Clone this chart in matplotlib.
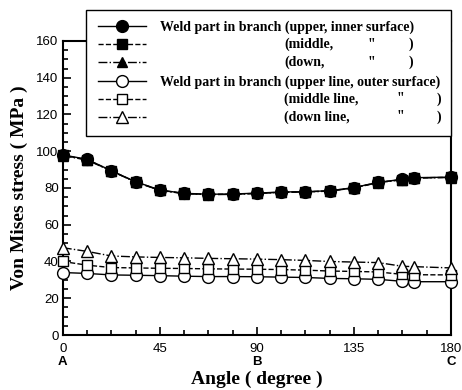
import matplotlib
matplotlib.use("Agg")
import matplotlib.pyplot as plt
from matplotlib.ticker import MultipleLocator
from matplotlib.transforms import blended_transform_factory

# angle along the weld line (degree)
angles = [0, 11.25, 22.5, 33.75, 45, 56.25, 67.5, 78.75, 90,
          101.25, 112.5, 123.75, 135, 146.25, 157.5, 163, 180]

# inner surface (upper / middle / down) - practically on top of each other
inner_upper = [98.0, 95.6, 89.4, 83.4, 78.9, 77.1, 76.6, 76.7, 77.2,
               77.8, 78.0, 78.5, 80.2, 83.1, 84.7, 85.6, 85.9]
inner_middle = [97.8, 95.4, 89.3, 83.3, 78.8, 77.0, 76.5, 76.6, 77.1,
                77.7, 77.9, 78.4, 80.1, 83.0, 84.6, 85.5, 85.8]
inner_down = [97.6, 95.2, 89.2, 83.2, 78.7, 76.9, 76.4, 76.5, 77.0,
              77.6, 77.8, 78.3, 80.0, 82.9, 84.5, 85.4, 85.7]

# outer surface lines
outer_upper = [34.0, 33.5, 32.7, 32.5, 32.3, 32.0, 31.8, 31.8, 31.7,
               31.5, 31.3, 30.8, 30.6, 30.3, 29.2, 29.0, 29.0]
outer_middle = [40.0, 38.0, 36.7, 36.5, 36.3, 36.2, 36.0, 35.9, 35.8,
                35.6, 35.3, 34.8, 34.6, 34.3, 33.0, 32.8, 32.7]
outer_down = [47.5, 45.5, 43.0, 42.5, 42.2, 42.0, 41.7, 41.5, 41.3,
              41.0, 40.6, 40.0, 39.7, 39.4, 37.4, 37.2, 36.5]

xtick_vals = [0, 45, 90, 135, 180]
point_names = {0: "A", 90: "B", 180: "C"}

serif = "Liberation Serif"
sans = "Liberation Sans"

fig = plt.figure(figsize=(4.62, 3.90), dpi=100)
ax = fig.add_axes([0.136, 0.141, 0.840, 0.754])

common = dict(color="k", lw=1.0, mec="k", clip_on=False)

# outer surface first (circles under squares under triangles)
ax.plot(angles, outer_upper, "-", marker="o", ms=8.5, mfc="white", mew=1.0,
        label="Weld part in branch (upper line, outer surface)", zorder=3, **common)
ax.plot(angles, outer_middle, "--", marker="s", ms=7.5, mfc="white", mew=1.0,
        label=" ", zorder=4, **common)
ax.plot(angles, outer_down, "-.", marker="^", ms=8.5, mfc="white", mew=1.0,
        label=" ", zorder=5, **common)

# inner surface, circles drawn on top
ax.plot(angles, inner_upper, "-", marker="o", ms=8.5, mfc="k",
        label="Weld part in branch (upper, inner surface)", zorder=8, **common)
ax.plot(angles, inner_middle, "--", marker="s", ms=6.5, mfc="k",
        label=" ", zorder=6, **common)
ax.plot(angles, inner_down, "-.", marker="^", ms=7, mfc="k",
        label=" ", zorder=7, **common)

ax.set_xlim(0, 180)
ax.set_ylim(0, 160)
ax.xaxis.set_minor_locator(MultipleLocator(11.25))
ax.yaxis.set_major_locator(MultipleLocator(20))
ax.yaxis.set_minor_locator(MultipleLocator(5))
ax.set_xticks(xtick_vals)
ax.set_xticklabels([str(v) for v in xtick_vals])
ax.tick_params(which="both", direction="in", top=False, right=False, width=1.2)
ax.tick_params(which="major", length=6)
ax.tick_params(which="minor", length=3.5)
ax.tick_params(axis="x", pad=6)
ax.tick_params(axis="y", pad=3)
for lbl in ax.get_xticklabels() + ax.get_yticklabels():
    lbl.set_fontfamily(sans)
    lbl.set_fontsize(9.5)
for sp in ax.spines.values():
    sp.set_linewidth(1.5)

trans = blended_transform_factory(ax.transData, ax.transAxes)
for xv, name in point_names.items():
    ax.text(xv, -0.072, name, transform=trans, ha="center", va="top",
            fontfamily=sans, fontweight="bold", fontsize=9.5)

ax.set_xlabel("Angle ( degree )", fontfamily=serif, fontweight="bold",
              fontsize=14, labelpad=11)
ax.set_ylabel("Von Mises stress ( MPa )", fontfamily=serif, fontweight="bold",
              fontsize=14, labelpad=6)

# legend, in the order of the original figure
hs, ls = ax.get_legend_handles_labels()
order = [3, 4, 5, 0, 1, 2]
leg = fig.legend([hs[i] for i in order], [ls[i] if i in (0, 3) else "" for i in order],
                 loc="upper right", bbox_to_anchor=(0.977, 0.975),
                 prop={"family": serif, "weight": "bold", "size": 10},
                 frameon=True, fancybox=False, edgecolor="k", framealpha=1,
                 handlelength=3.5, handletextpad=1.0, labelspacing=0.36,
                 borderpad=0.8, borderaxespad=0)
leg.get_frame().set_linewidth(1.0)
leg.set_zorder(20)

# the parenthetical sub-labels, aligned in columns as in the figure
sub = {1: ["(middle,", '"', ")"], 2: ["(down,", '"', ")"],
       4: ["(middle line,", '"', ")"], 5: ["(down line,", '"', ")"]}
col_px = {1: [284, 367, 409], 2: [284, 367, 409],
          4: [284, 396, 437], 5: [284, 396, 437]}
fig.canvas.draw()
W, H = fig.canvas.get_width_height()
handles = leg.legend_handles
for row, parts in sub.items():
    bb = handles[row].get_window_extent()
    yc = (bb.y0 + bb.y1) / 2 / H
    for part, px in zip(parts, col_px[row]):
        fig.text(px / W, yc, part, ha="left", va="center", fontfamily=serif,
                 fontweight="bold", fontsize=10, zorder=30)

fig.savefig("out.png", dpi=100)
